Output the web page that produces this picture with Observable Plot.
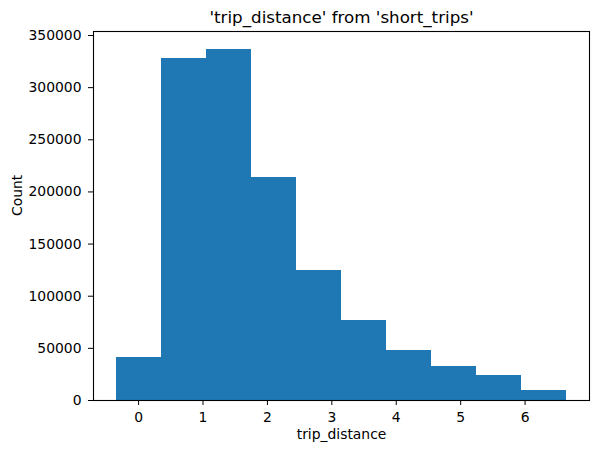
<!DOCTYPE html>
<html>
<head>
<meta charset="utf-8">
<script src="https://cdn.jsdelivr.net/npm/d3@7"></script>
<script src="https://cdn.jsdelivr.net/npm/@observablehq/plot@0.6"></script>
<style>
  body { margin: 0; background: white; }
  svg { display: block; }
</style>
</head>
<body>
<div id="chart"></div>
<script>
const binEdges = [-0.35, 0.35, 1.05, 1.75, 2.45, 3.15, 3.85, 4.55, 5.25, 5.95, 6.65];
const counts = [41200, 327700, 337000, 213400, 124600, 76650, 47900, 32600, 24000, 9600];
const xTicks = [0, 1, 2, 3, 4, 5, 6];
const yTicks = [0, 50000, 100000, 150000, 200000, 250000, 300000, 350000];
const title = "'trip_distance' from 'short_trips'";
const xLabel = "trip_distance";
const yLabel = "Count";

const bins = counts.map((c, i) => ({x1: binEdges[i], x2: binEdges[i + 1], count: c}));
const font = "DejaVu Sans, sans-serif";

const chart = Plot.plot({
  width: 598,
  height: 453,
  marginLeft: 93,
  marginRight: 9,
  marginTop: 31,
  marginBottom: 53,
  style: {fontFamily: font, fontSize: "13.9px", color: "black", background: "white"},
  x: {domain: [-0.7, 7.0]},
  y: {domain: [0, 353850]},
  marks: [
    Plot.rectY(bins, {x1: "x1", x2: "x2", y: "count", fill: "#1f77b4", inset: 0, shapeRendering: "crispEdges"}),
    Plot.axisX(xTicks, {tickSize: 5, tickPadding: 7, label: null, stroke: "black", fontSize: 13.9}),
    Plot.axisY(yTicks, {tickSize: 5, tickPadding: 7, label: null, stroke: "black", fontSize: 13.9, tickFormat: d3.format("d")}),
    Plot.frame({stroke: "black", strokeWidth: 1.1}),
    Plot.text([title], {frameAnchor: "top", lineAnchor: "middle", dy: -13.6, fontSize: 16.7, fill: "black"}),
    Plot.text([xLabel], {frameAnchor: "bottom", lineAnchor: "middle", dy: 33.9, fontSize: 13.9, fill: "black"}),
    Plot.text([yLabel], {frameAnchor: "left", lineAnchor: "middle", dx: -76, rotate: -90, fontSize: 13.9, fill: "black"})
  ]
});
document.getElementById("chart").appendChild(chart);
</script>
</body>
</html>
